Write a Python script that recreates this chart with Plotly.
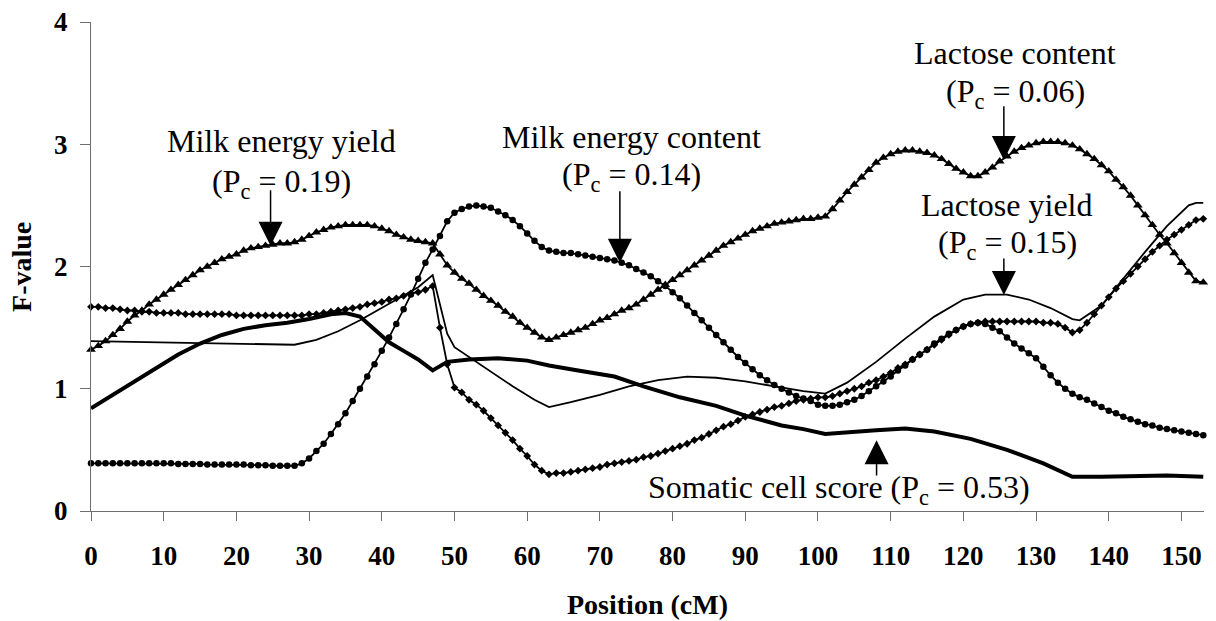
import plotly.graph_objects as go

# ---------------- data ----------------
positions = list(range(0, 154))  # cM, one point per cM

lactose_content = [  # triangles
    1.32, 1.35, 1.39, 1.44, 1.49, 1.55, 1.60, 1.64, 1.69, 1.73,
    1.77, 1.81, 1.85, 1.89, 1.93, 1.97, 2.00, 2.03, 2.06, 2.08,
    2.10, 2.13, 2.15, 2.16, 2.17, 2.18, 2.19, 2.19, 2.20, 2.22,
    2.25, 2.28, 2.30, 2.32, 2.33, 2.34, 2.34, 2.34, 2.34, 2.33,
    2.31, 2.29, 2.26, 2.24, 2.22, 2.21, 2.20, 2.19, 2.10, 2.01,
    1.95, 1.90, 1.86, 1.81, 1.76, 1.72, 1.68, 1.63, 1.59, 1.54,
    1.50, 1.46, 1.42, 1.40, 1.42, 1.44, 1.46, 1.48, 1.50, 1.53,
    1.56, 1.58, 1.61, 1.64, 1.66, 1.69, 1.73, 1.77, 1.81, 1.85,
    1.89, 1.93, 1.97, 2.01, 2.05, 2.09, 2.13, 2.17, 2.20, 2.23,
    2.26, 2.29, 2.31, 2.33, 2.35, 2.36, 2.37, 2.38, 2.39, 2.39,
    2.40, 2.41, 2.47, 2.54, 2.61, 2.67, 2.73, 2.79, 2.85, 2.89,
    2.92, 2.94, 2.95, 2.95, 2.94, 2.93, 2.91, 2.88, 2.84, 2.80,
    2.77, 2.74, 2.74, 2.77, 2.81, 2.86, 2.90, 2.94, 2.97, 2.99,
    3.01, 3.02, 3.02, 3.02, 3.01, 2.99, 2.96, 2.92, 2.88, 2.83,
    2.78, 2.71, 2.65, 2.58, 2.50, 2.42, 2.34, 2.26, 2.19, 2.11,
    2.03, 1.95, 1.88, 1.87,
]

milk_energy_content = [  # circles
    0.39, 0.39, 0.39, 0.39, 0.39, 0.39, 0.39, 0.39, 0.39, 0.39,
    0.39, 0.39, 0.385, 0.385, 0.385, 0.385, 0.38, 0.38, 0.38, 0.38,
    0.38, 0.38, 0.375, 0.375, 0.375, 0.37, 0.37, 0.37, 0.37, 0.39,
    0.43, 0.49, 0.55, 0.63, 0.71, 0.80, 0.90, 1.00, 1.10, 1.20,
    1.31, 1.42, 1.53, 1.65, 1.77, 1.90, 2.03, 2.14, 2.25, 2.37,
    2.44, 2.47, 2.49, 2.50, 2.49, 2.48, 2.45, 2.42, 2.38, 2.33,
    2.27, 2.21, 2.16, 2.13, 2.12, 2.11, 2.11, 2.10, 2.09, 2.08,
    2.07, 2.06, 2.05, 2.03, 2.01, 1.98, 1.95, 1.92, 1.88, 1.84,
    1.79, 1.74, 1.68, 1.62, 1.56, 1.50, 1.44, 1.38, 1.32, 1.26,
    1.21, 1.16, 1.11, 1.07, 1.03, 1.00, 0.97, 0.94, 0.92, 0.90,
    0.87, 0.86, 0.86, 0.87, 0.89, 0.91, 0.94, 0.98, 1.02, 1.06,
    1.10, 1.15, 1.19, 1.24, 1.28, 1.32, 1.37, 1.41, 1.45, 1.48,
    1.51, 1.53, 1.54, 1.53, 1.50, 1.47, 1.42, 1.37, 1.33, 1.29,
    1.25, 1.18, 1.11, 1.05, 1.00, 0.96, 0.93, 0.91, 0.88, 0.85,
    0.82, 0.80, 0.77, 0.75, 0.73, 0.71, 0.70, 0.68, 0.67, 0.66,
    0.65, 0.64, 0.63, 0.62,
]

diamond_series = [  # diamonds
    1.67, 1.67, 1.66, 1.66, 1.65, 1.64, 1.64, 1.63, 1.63, 1.62,
    1.62, 1.62, 1.62, 1.61, 1.61, 1.61, 1.61, 1.61, 1.61, 1.61,
    1.60, 1.60, 1.60, 1.60, 1.60, 1.60, 1.60, 1.60, 1.60, 1.60,
    1.61, 1.61, 1.62, 1.63, 1.64, 1.65, 1.66, 1.67, 1.69, 1.70,
    1.71, 1.73, 1.74, 1.76, 1.78, 1.79, 1.81, 1.84, 1.50, 1.20,
    1.01, 0.97, 0.91, 0.87, 0.82, 0.76, 0.70, 0.64, 0.58, 0.51,
    0.45, 0.38, 0.33, 0.30, 0.31, 0.31, 0.32, 0.33, 0.34, 0.35,
    0.36, 0.38, 0.39, 0.40, 0.41, 0.42, 0.44, 0.45, 0.47, 0.49,
    0.51, 0.53, 0.55, 0.58, 0.60, 0.63, 0.66, 0.69, 0.71, 0.74,
    0.77, 0.79, 0.81, 0.83, 0.85, 0.86, 0.88, 0.90, 0.91, 0.92,
    0.93, 0.93, 0.94, 0.96, 0.98, 1.00, 1.02, 1.05, 1.07, 1.10,
    1.13, 1.17, 1.20, 1.24, 1.28, 1.32, 1.36, 1.40, 1.44, 1.48,
    1.51, 1.53, 1.54, 1.55, 1.55, 1.55, 1.55, 1.55, 1.55, 1.55,
    1.55, 1.54, 1.54, 1.53, 1.50, 1.46, 1.48, 1.54, 1.61, 1.68,
    1.75, 1.82, 1.88, 1.94, 2.00, 2.06, 2.12, 2.17, 2.22, 2.26,
    2.30, 2.34, 2.38, 2.39,
]

lactose_yield_x = [0, 10, 20, 28, 31, 34, 37, 40, 43, 45, 47, 48, 49, 50, 52, 55,
                   58, 61, 63, 66, 70, 74, 78, 82, 86, 90, 94, 98, 101, 104, 108,
                   112, 116, 120, 123, 126, 129, 132, 135, 136, 139, 142, 145, 148,
                   151, 152, 153]
lactose_yield = [1.39, 1.38, 1.37, 1.36, 1.40, 1.47, 1.56, 1.66, 1.76, 1.83, 1.93,
                 1.68, 1.45, 1.34, 1.26, 1.14, 1.02, 0.91, 0.85, 0.89, 0.95, 1.02,
                 1.07, 1.10, 1.09, 1.06, 1.02, 0.98, 0.96, 1.05, 1.22, 1.41, 1.59,
                 1.73, 1.77, 1.77, 1.73, 1.66, 1.57, 1.56, 1.68, 1.90, 2.12, 2.33,
                 2.50, 2.52, 2.52]

scs_x = [0, 3, 6, 9, 12, 15, 18, 21, 24, 27, 30, 33, 35, 37, 39, 41, 43, 45, 47,
         49, 52, 56, 60, 63, 67, 72, 76, 81, 86, 90, 95, 98, 101, 104, 108, 112,
         116, 121, 126, 131, 135, 139, 144, 148, 153]
scs = [0.84, 0.95, 1.06, 1.17, 1.28, 1.37, 1.44, 1.49, 1.52, 1.54, 1.57, 1.61,
       1.62, 1.59, 1.49, 1.38, 1.31, 1.24, 1.15, 1.22, 1.24, 1.25, 1.23, 1.19,
       1.15, 1.10, 1.02, 0.93, 0.86, 0.78, 0.70, 0.67, 0.63, 0.64, 0.66, 0.675,
       0.65, 0.59, 0.50, 0.39, 0.28, 0.28, 0.29, 0.29, 0.28]

x_ticks = [0, 10, 20, 30, 40, 50, 60, 70, 80, 90, 100, 110, 120, 130, 140, 150]
y_ticks = [0, 1, 2, 3, 4]

# text lines: (text, x, y) and arrows: (tip_x, tip_y, tail_x, tail_y)
labels = [
    ("Milk energy yield", 26.2, 3.028),
    ("(P<sub>c</sub> = 0.19)", 26.27, 2.676),
    ("Milk energy content", 74.4, 3.061),
    ("(P<sub>c</sub> = 0.14)", 74.35, 2.733),
    ("Lactose content", 127.08, 3.749),
    ("(P<sub>c</sub> = 0.06)", 127.2, 3.413),
    ("Lactose yield", 125.98, 2.506),
    ("(P<sub>c</sub> = 0.15)", 126.05, 2.176),
    ("Somatic cell score (P<sub>c</sub> = 0.53)", 102.9, 0.178),
]
arrows = [
    (24.7, 2.17, 24.7, 2.635),
    (72.75, 2.03, 72.75, 2.627),
    (125.57, 2.872, 125.57, 3.323),
    (125.57, 1.767, 125.57, 2.078),
    (108.06, 0.579, 108.06, 0.278),
]

# ---------------- figure ----------------
FONT = "Liberation Serif"
fig = go.Figure()

fig.add_trace(go.Scatter(x=lactose_yield_x, y=lactose_yield, mode="lines",
                         line=dict(color="black", width=1.8), cliponaxis=False))
fig.add_trace(go.Scatter(x=scs_x, y=scs, mode="lines",
                         line=dict(color="black", width=4), cliponaxis=False))
fig.add_trace(go.Scatter(x=positions, y=diamond_series, mode="lines+markers",
                         line=dict(color="black", width=1.8),
                         marker=dict(symbol="diamond", size=6, color="black"),
                         cliponaxis=False))
fig.add_trace(go.Scatter(x=positions, y=milk_energy_content, mode="lines+markers",
                         line=dict(color="black", width=1.8),
                         marker=dict(symbol="circle", size=6.5, color="black"),
                         cliponaxis=False))
fig.add_trace(go.Scatter(x=positions, y=lactose_content, mode="lines+markers",
                         line=dict(color="black", width=1.8),
                         marker=dict(symbol="triangle-up", size=8.5, color="black"),
                         cliponaxis=False))

for text, x, y in labels:
    fig.add_annotation(x=x, y=y, xref="x", yref="y", text=text, showarrow=False,
                       xanchor="center", yanchor="middle",
                       font=dict(family=FONT, size=32, color="black"))

for tx, ty, ax, ay in arrows:
    fig.add_annotation(x=tx, y=ty, ax=ax, ay=ay, xref="x", yref="y",
                       axref="x", ayref="y", text="", showarrow=True,
                       arrowhead=2, arrowsize=3.2, arrowwidth=1.5,
                       arrowcolor="black", standoff=0, startstandoff=0)

# axis titles placed as paper-referenced text
fig.add_annotation(x=0.5, y=-0.191, xref="paper", yref="paper",
                   text="<b>Position (cM)</b>", showarrow=False,
                   xanchor="center", yanchor="middle",
                   font=dict(family=FONT, size=28, color="black"))
fig.add_annotation(x=-0.0625, y=0.5, xref="paper", yref="paper",
                   text="<b>F-value</b>", showarrow=False, textangle=-90,
                   xanchor="center", yanchor="middle",
                   font=dict(family=FONT, size=28, color="black"))

axis_common = dict(showgrid=False, zeroline=False, showline=True,
                   linecolor="#6e6e6e", linewidth=1.3, ticks="outside",
                   tickcolor="#6e6e6e", tickwidth=1.3, mirror=False,
                   automargin=False, ticklabeloverflow="allow")

fig.update_xaxes(range=[0, 153.1], tickvals=x_ticks, ticklen=9,
                 ticklabelstandoff=11,
                 tickfont=dict(family=FONT, size=27, color="black", weight="bold"),
                 **axis_common)
fig.update_yaxes(range=[0, 4], tickvals=y_ticks, ticklen=10,
                 ticklabelstandoff=7,
                 tickfont=dict(family=FONT, size=27, color="black", weight="bold"),
                 **axis_common)

# page body adds an 8px margin, so the figure is offset by 8px in the screenshot
fig.update_layout(width=1200, height=613, showlegend=False,
                  margin=dict(l=83, r=4, t=14, b=110),
                  plot_bgcolor="white", paper_bgcolor="white")

fig.write_html("out.html")
